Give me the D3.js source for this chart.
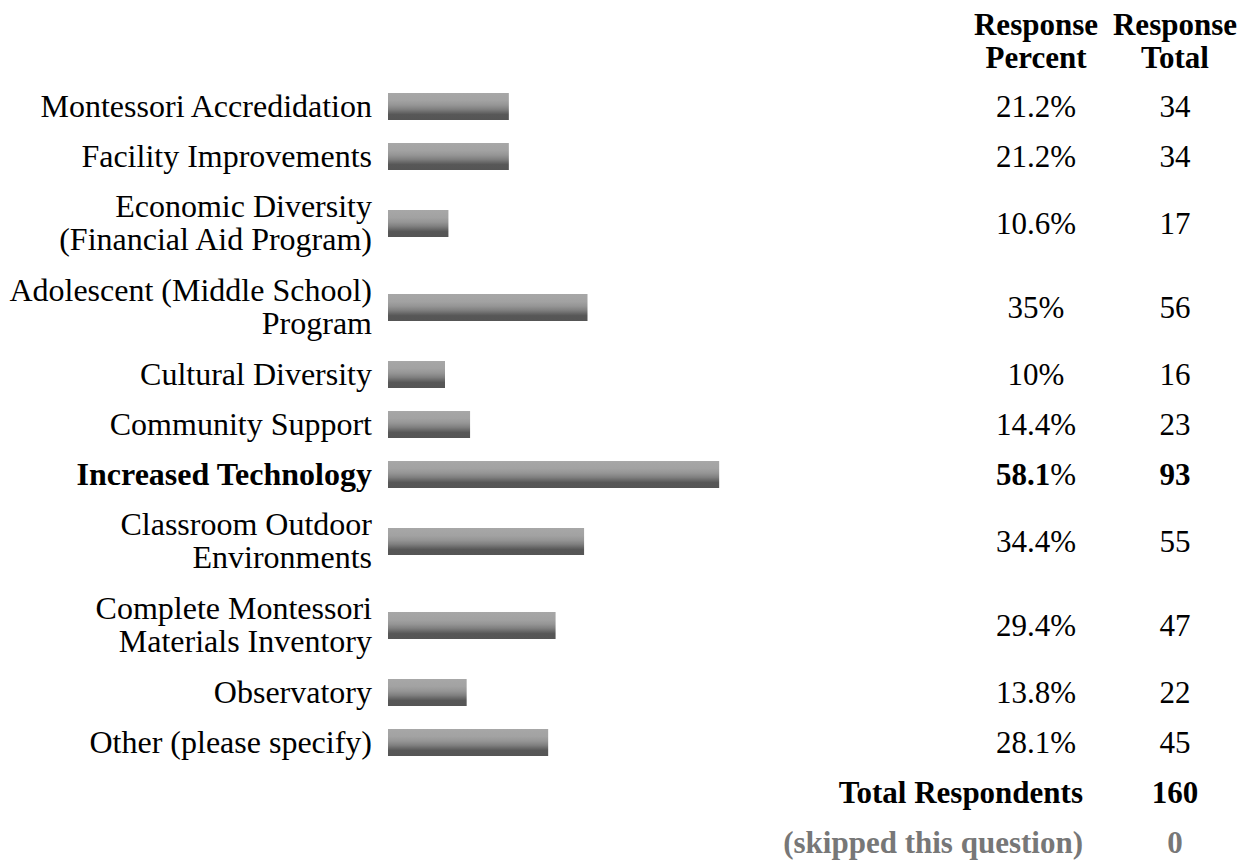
<!DOCTYPE html>
<html>
<head>
<meta charset="utf-8">
<script src="https://cdn.jsdelivr.net/npm/d3@7"></script>
<style>
  html, body { margin: 0; padding: 0; background: #fff; }
  svg text { font-family: "Liberation Serif", "Times New Roman", serif; fill: #000; }
  .label { font-size: 32px; }
  .bold { font-weight: bold; }
  .skipped { fill: #777; font-weight: bold; }
</style>
</head>
<body>
<div id="chart"></div>
<script>
// Data
var categories = [
  ['Montessori Accredidation'],
  ['Facility Improvements'],
  ['Economic Diversity', '(Financial Aid Program)'],
  ['Adolescent (Middle School)', 'Program'],
  ['Cultural Diversity'],
  ['Community Support'],
  ['Increased Technology'],
  ['Classroom Outdoor', 'Environments'],
  ['Complete Montessori', 'Materials Inventory'],
  ['Observatory'],
  ['Other (please specify)']
];
var percents = [21.2, 21.2, 10.6, 35, 10, 14.4, 58.1, 34.4, 29.4, 13.8, 28.1];
var totals   = [34, 34, 17, 56, 16, 23, 93, 55, 47, 22, 45];
var headers  = [['Response', 'Percent'], ['Response', 'Total']];
var footer   = [['Total Respondents', 160], ['(skipped this question)', 0]];

var width = 1255, height = 861;
var fontSize = 31, lineH = 33, rowH = 50, barH = 27;
var top0 = 81.5;
var labelX = 372, pctX = 1036, totX = 1175, footX = 1083;

var svg = d3.select('#chart').append('svg')
  .attr('width', width)
  .attr('height', height)
  .style('font-size', fontSize + 'px');

var grad = svg.append('defs').append('linearGradient')
  .attr('id', 'barGrad')
  .attr('x1', 0).attr('y1', 0).attr('x2', 0).attr('y2', 1);
[[0, '#a7a7a7'], [0.28, '#a2a2a2'], [0.45, '#959595'], [0.6, '#808080'], [0.72, '#676767'], [0.8, '#575757'], [1, '#555555']]
  .forEach(function(s) { grad.append('stop').attr('offset', s[0]).attr('stop-color', s[1]); });

// row centres (rows grow with number of label lines)
var rows = [];
var yy = top0;
categories.forEach(function(c, i) {
  var h = rowH + (c.length - 1) * 34;
  rows.push({ lines: c, pct: percents[i], total: totals[i], cy: yy + h / 2 });
  yy += h;
});

var maxPct = d3.max(percents);

var x = d3.scaleLinear()
  .domain([0, 100])
  .range([388, 958]);

// headers
headers.forEach(function(h, j) {
  var t = svg.append('text')
    .attr('class', 'bold')
    .attr('text-anchor', 'middle')
    .attr('x', j === 0 ? pctX : totX);
  h.forEach(function(line, k) {
    t.append('tspan')
      .attr('x', j === 0 ? pctX : totX)
      .attr('y', 35 + k * lineH)
      .text(line);
  });
});

var row = svg.selectAll('.row')
  .data(rows)
.enter().append('g')
  .attr('class', 'row');

row.append('text')
  .attr('text-anchor', 'end')
  .attr('class', function(d) { return d.pct === maxPct ? 'label bold' : 'label'; })
  .each(function(d) {
    var sel = d3.select(this);
    d.lines.forEach(function(line, k) {
      sel.append('tspan')
        .attr('x', labelX)
        .attr('y', d.cy + (k - (d.lines.length - 1) / 2) * lineH + 10)
        .text(line);
    });
  });

row.append('rect')
  .attr('class', 'bar')
  .attr('x', x(0))
  .attr('y', function(d) { return d.cy - barH / 2; })
  .attr('width', function(d) { return x(d.pct) - x(0); })
  .attr('height', barH)
  .attr('fill', 'url(#barGrad)');

row.append('text')
  .attr('text-anchor', 'middle')
  .attr('x', pctX)
  .attr('y', function(d) { return d.cy + 10; })
  .each(function(d) {
    var sel = d3.select(this);
    sel.append('tspan')
      .attr('class', d.pct === maxPct ? 'bold' : null)
      .text(d.pct);
    sel.append('tspan').text('%');
  });

row.append('text')
  .attr('text-anchor', 'middle')
  .attr('class', function(d) { return d.pct === maxPct ? 'bold' : null; })
  .attr('x', totX)
  .attr('y', function(d) { return d.cy + 10; })
  .text(function(d) { return d.total; });

// footer rows
footer.forEach(function(f, i) {
  var cy = yy + rowH / 2 + i * rowH;
  var cls = i === 0 ? 'bold' : 'skipped';
  svg.append('text')
    .attr('class', cls)
    .attr('text-anchor', 'end')
    .attr('x', footX)
    .attr('y', cy + 10)
    .text(f[0]);
  svg.append('text')
    .attr('class', cls)
    .attr('text-anchor', 'middle')
    .attr('x', totX)
    .attr('y', cy + 10)
    .text(f[1]);
});
</script>
</body>
</html>
